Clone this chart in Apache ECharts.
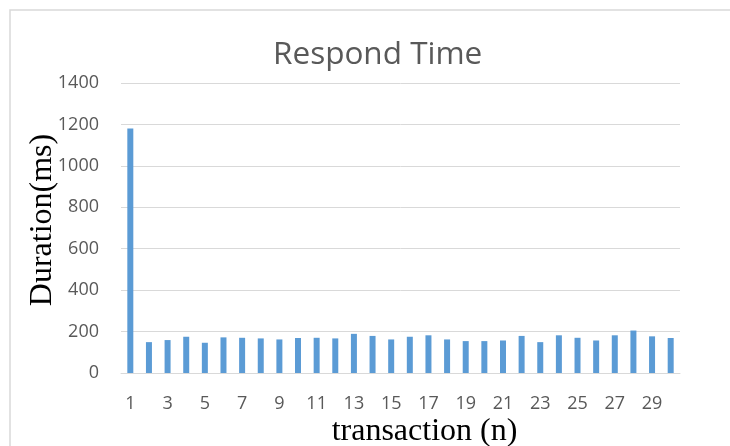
<!DOCTYPE html>
<html><head><meta charset="utf-8">
<script src="https://cdn.jsdelivr.net/npm/echarts@6/dist/echarts.min.js"></script>
<style>html,body{margin:0;padding:0;background:#fff}#c{width:730px;height:446px}</style>
</head><body><div id="c"></div>
<script>
var categories = ['1','2','3','4','5','6','7','8','9','10','11','12','13','14','15','16','17','18','19','20','21','22','23','24','25','26','27','28','29','30'];
var durations = [1180,149,159,175,146,172,170,167,162,169,170,167,189,179,162,175,182,162,154,154,157,179,149,182,170,157,182,205,177,169];
var yTicks = [0,200,400,600,800,1000,1200,1400];

var chart = echarts.init(document.getElementById('c'));
chart.setOption({
  animation:false,
  backgroundColor:'#fff',
  graphic:[{type:'rect',shape:{x:10,y:10,width:740,height:460},style:{fill:'none',stroke:'#d9d9d9',lineWidth:1.5},silent:true}],
  title:{text:'Respond Time',left:268,top:34,textStyle:{fontFamily:'Open Sans',fontWeight:'normal',fontSize:31.5,color:'#595959'}},
  grid:{left:121,right:50,top:83,bottom:73,outerBoundsMode:'none',containLabel:false},
  xAxis:{type:'category',data:categories,
    axisLine:{lineStyle:{color:'#d9d9d9'}},axisTick:{show:false},
    axisLabel:{interval:1,color:'#595959',fontSize:18,fontFamily:'Open Sans',margin:22},
    name:'transaction (n)',nameLocation:'middle',nameGap:43,nameMoveOverlap:false,
    nameTextStyle:{fontFamily:'Liberation Serif',fontSize:32,color:'#000',padding:[0,0,0,48]}},
  yAxis:{type:'value',min:0,max:1400,interval:200,
    axisLine:{show:false},axisTick:{show:false},
    splitLine:{lineStyle:{color:'#d9d9d9'}},
    axisLabel:{color:'#595959',fontSize:18,fontFamily:'Open Sans',margin:22,
      formatter:function(v){return yTicks.indexOf(v)>=0?String(v):'';}},
    name:'Duration(ms)',nameLocation:'middle',nameGap:62,nameRotate:90,nameMoveOverlap:false,
    nameTextStyle:{fontFamily:'Liberation Serif',fontSize:32,color:'#000',padding:[0,0,0,16]}},
  series:[{type:'bar',data:durations,barWidth:6,itemStyle:{color:'#5b9bd5'}}]
});
</script></body></html>
